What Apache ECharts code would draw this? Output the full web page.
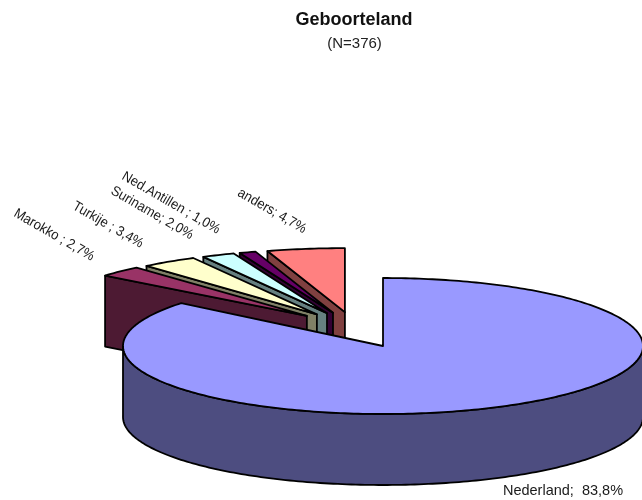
<!DOCTYPE html>
<html>
<head>
<meta charset="utf-8">
<style>html,body{margin:0;padding:0;background:#fff}#c{width:642px;height:500px}</style>
<script src="https://cdn.jsdelivr.net/npm/echarts@6/dist/echarts.min.js"></script>
</head>
<body>
<div id="c"></div>
<script>
// Data, in painter's order (back slices first, Nederland last)
const categories = ['anders', 'Ned.Antillen ', 'Suriname', 'Turkije ', 'Marokko ', 'Nederland'];
const percentages = [4.7, 1.0, 2.0, 3.4, 2.7, 83.8];
const separators = ['; ', '; ', '; ', '; ', '; ', ';  '];
const topColors = ['#FF8080', '#660066', '#CCFFFF', '#FFFFCC', '#993366', '#9999FF'];
const sideColors = ['#804040', '#330033', '#668080', '#808066', '#4D1A33', '#4D4D80'];
const titleText = 'Geboorteland';
const subtitleText = '(N=376)';

// Layout of the 3D projection
const CX = 383, CY = 346, RX = 260, RY_MAIN = 68, RY_SMALL = 64, DEPTH = 71;
const labelCenters = [[272, 211], [171, 203], [152, 213], [108, 225], [54, 235], [563, 491]];
const LABEL_ANGLE = 30;

const total = percentages.reduce((a, b) => a + b, 0);
const rad = d => d * Math.PI / 180;
const pt = (deg, cx, cy, ry) => [cx + RX * Math.sin(rad(deg)), cy - ry * Math.cos(rad(deg))];
const arc = (a, b, cx, cy, ry) => {
  const n = Math.max(2, Math.ceil(Math.abs(b - a)));
  const out = [];
  for (let i = 0; i <= n; i++) out.push(pt(a + (b - a) * i / n, cx, cy, ry));
  return out;
};
const poly = (points, fill) => ({
  type: 'polygon',
  shape: { points },
  style: { fill, stroke: '#000', lineWidth: 1.8, lineJoin: 'round' }
});
const sweep = i => percentages[i] / total * 360;

function startAngle(i) {          // degrees, the small slices run counter-clockwise from 12 o'clock
  let a = 0;
  for (let k = 0; k < i; k++) a -= sweep(k);
  return a;
}

function renderItem(params) {
  const i = params.dataIndex;
  const children = [];
  const isMain = i === categories.length - 1;
  if (isMain) {
    const end = sweep(i);
    const front = arc(90, 270, CX, CY, RY_MAIN);
    const frontLow = front.map(p => [p[0], p[1] + DEPTH]).reverse();
    children.push(poly(front.concat(frontLow), sideColors[i]));
    children.push(poly([[CX, CY]].concat(arc(0, end, CX, CY, RY_MAIN)), topColors[i]));
  } else {
    const a0 = startAngle(i), a1 = a0 - sweep(i), mid = (a0 + a1) / 2;
    // exploded apex of this slice
    const ax = CX - 28 + 67 * Math.sin(rad(mid));
    const ay = CY - 34 + 13 * (1 - Math.cos(rad(mid)));
    const edge = pt(a1, ax, ay, RY_SMALL);
    children.push(poly([edge, [ax, ay], [ax, ay + DEPTH], [edge[0], edge[1] + DEPTH]], sideColors[i]));
    children.push(poly([[ax, ay]].concat(arc(a0, a1, ax, ay, RY_SMALL)), topColors[i]));
  }
  children.push({
    type: 'text',
    x: labelCenters[i][0],
    y: labelCenters[i][1],
    rotation: isMain ? 0 : rad(-LABEL_ANGLE),
    scaleX: isMain ? 1 : 0.93,
    style: {
      text: categories[i] + separators[i] + percentages[i].toFixed(1).replace('.', ',') + '%',
      font: (isMain ? '14.5px' : '14px') + ' "Liberation Sans", Arial, sans-serif',
      fill: '#1a1a1a',
      align: 'center',
      verticalAlign: 'middle'
    }
  });
  return { type: 'group', children };
}

const chart = echarts.init(document.getElementById('c'), null, { renderer: 'canvas' });
chart.setOption({
  animation: false,
  backgroundColor: '#fff',
  title: [
    { text: titleText, left: 354, top: 11, padding: 0, textAlign: 'center',
      textStyle: { fontFamily: 'Liberation Sans', fontSize: 18, fontWeight: 'bold', color: '#111' } },
    { text: subtitleText, left: 354.5, top: 36, padding: 0, textAlign: 'center',
      textStyle: { fontFamily: 'Liberation Sans', fontSize: 15, fontWeight: 'normal', color: '#222' } }
  ],
  series: [{
    type: 'custom',
    coordinateSystem: 'none',
    renderItem,
    data: categories.map((name, i) => ({ name, value: percentages[i] }))
  }]
});
</script>
</body>
</html>
